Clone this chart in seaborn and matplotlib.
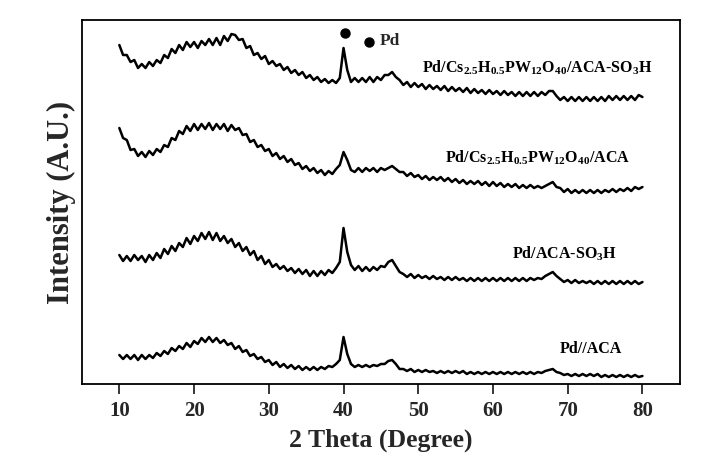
import numpy as np
import pandas as pd
import matplotlib
matplotlib.use("Agg")
import matplotlib.pyplot as plt
import seaborn as sns

# 2-theta grid (degrees), 0.5 degree step from 10 to 80
two_theta = np.arange(10.0, 80.01, 0.5)

# Intensities (arbitrary units, stacked offsets included)
pd_cs_aca_so3h = [
    339, 329, 329, 322, 324, 316, 320, 316, 322, 318,
    324, 321, 329, 326, 335, 331, 339, 334, 342, 337,
    342, 336, 343, 339, 345, 339, 346, 339, 348, 343,
    350, 349, 344, 345, 336, 338, 329, 331, 325, 328,
    320, 323, 318, 320, 314, 317, 311, 314, 309, 312,
    306, 309, 304, 307, 302, 305, 301, 304, 301, 306,
    336, 314, 302, 306, 302, 306, 302, 307, 302, 307,
    304, 309, 309, 312, 307, 304, 299, 302, 297, 301,
    297, 300, 295, 299, 295, 298, 294, 298, 293, 297,
    293, 296, 292, 296, 291, 295, 291, 294, 290, 294,
    290, 293, 289, 293, 289, 292, 288, 292, 288, 292,
    288, 292, 288, 292, 289, 293, 293, 288, 284, 287,
    283, 287, 283, 287, 283, 287, 283, 287, 283, 287,
    283, 288, 284, 288, 284, 288, 284, 288, 284, 289,
    287,
]
pd_cs_aca = [
    256, 246, 244, 234, 235, 228, 232, 227, 233, 229,
    235, 232, 239, 237, 246, 244, 253, 250, 258, 253,
    260, 254, 260, 255, 261, 254, 260, 255, 260, 253,
    259, 254, 256, 249, 250, 242, 244, 237, 239, 233,
    235, 228, 231, 225, 228, 222, 225, 219, 221, 215,
    218, 213, 216, 211, 214, 209, 213, 210, 215, 219,
    232, 224, 214, 212, 216, 212, 216, 213, 216, 212,
    216, 214, 216, 218, 215, 212, 212, 208, 211, 207,
    209, 205, 208, 204, 207, 204, 207, 203, 206, 202,
    205, 201, 204, 200, 203, 200, 203, 199, 202, 198,
    202, 198, 201, 197, 200, 197, 200, 196, 199, 196,
    199, 196, 198, 196, 198, 200, 202, 197, 196, 192,
    195, 191, 194, 191, 194, 191, 194, 191, 194, 191,
    194, 192, 195, 192, 195, 193, 196, 193, 197, 195,
    197,
]
pd_aca_so3h = [
    129, 123, 128, 123, 129, 124, 128, 122, 129, 124,
    131, 126, 135, 130, 138, 133, 141, 137, 146, 140,
    148, 143, 151, 145, 152, 144, 151, 143, 148, 141,
    145, 137, 141, 133, 137, 129, 133, 124, 128, 120,
    124, 117, 120, 115, 118, 113, 116, 111, 115, 110,
    114, 108, 113, 108, 113, 109, 114, 111, 116, 122,
    156, 132, 119, 114, 118, 113, 117, 113, 117, 114,
    118, 117, 122, 124, 118, 112, 110, 107, 110, 106,
    109, 106, 108, 105, 108, 105, 107, 104, 107, 104,
    107, 104, 106, 103, 106, 103, 106, 103, 106, 103,
    106, 103, 106, 103, 106, 103, 106, 103, 106, 103,
    106, 104, 106, 105, 108, 110, 112, 108, 105, 102,
    104, 101, 104, 101, 103, 101, 103, 100, 103, 100,
    103, 100, 103, 100, 103, 100, 103, 100, 103, 100,
    102,
]
pd_aca = [
    29, 25, 29, 25, 29, 24, 29, 25, 29, 26,
    31, 28, 33, 30, 36, 33, 38, 35, 41, 37,
    43, 40, 46, 42, 47, 42, 46, 41, 44, 39,
    41, 35, 38, 32, 34, 28, 30, 25, 27, 22,
    24, 19, 22, 17, 20, 16, 19, 15, 18, 14,
    17, 14, 17, 14, 17, 15, 18, 17, 20, 24,
    47, 30, 20, 17, 19, 17, 19, 17, 19, 18,
    20, 20, 23, 24, 20, 15, 15, 13, 15, 12,
    14, 12, 14, 12, 13, 11, 13, 11, 13, 11,
    13, 11, 13, 10, 12, 10, 12, 10, 12, 10,
    12, 10, 12, 10, 12, 10, 12, 10, 12, 10,
    12, 10, 12, 11, 13, 14, 15, 12, 11, 9,
    10, 8, 10, 8, 10, 8, 10, 8, 10, 7,
    9, 7, 9, 7, 9, 7, 9, 7, 9, 7,
    8,
]

series_names = [
    "Pd/Cs2.5H0.5PW12O40/ACA-SO3H",
    "Pd/Cs2.5H0.5PW12O40/ACA",
    "Pd/ACA-SO3H",
    "Pd//ACA",
]
series_labels = [
    r"Pd/Cs$_{2.5}$H$_{0.5}$PW$_{12}$O$_{40}$/ACA-SO$_{3}$H",
    r"Pd/Cs$_{2.5}$H$_{0.5}$PW$_{12}$O$_{40}$/ACA",
    r"Pd/ACA-SO$_{3}$H",
    "Pd//ACA",
]
label_pos = [(65.9, 316), (66.0, 226), (69.5, 130), (73.1, 35)]
x_ticks = [10, 20, 30, 40, 50, 60, 70, 80]
pd_peak = (40.2, 351)
pd_legend = (43.4, 342)

frames = []
for name, vals in zip(series_names, [pd_cs_aca_so3h, pd_cs_aca, pd_aca_so3h, pd_aca]):
    frames.append(pd.DataFrame({"two_theta": two_theta, "intensity": vals, "sample": name}))
df = pd.concat(frames, ignore_index=True)

sns.set_style("white")
plt.rcParams["font.family"] = ["Liberation Serif", "DejaVu Serif"]
plt.rcParams["font.weight"] = "bold"
plt.rcParams["mathtext.fontset"] = "custom"
plt.rcParams["mathtext.rm"] = "Liberation Serif:bold"
plt.rcParams["mathtext.bf"] = "Liberation Serif:bold"
plt.rcParams["mathtext.it"] = "Liberation Serif:bold"

fig = plt.figure(figsize=(7.03, 4.59), dpi=100)
ax = fig.add_axes([0.1166, 0.1634, 0.8504, 0.793])

sns.lineplot(data=df, x="two_theta", y="intensity", hue="sample",
             palette=["black"] * 4, legend=False, linewidth=1.8,
             estimator=None, sort=False, ax=ax)

for lab, (lx, ly) in zip(series_labels, label_pos):
    ax.text(lx, ly, lab, ha="center", va="center", fontsize=11.5,
            fontweight="bold", color="black")

ax.plot([pd_peak[0]], [pd_peak[1]], "o", color="black", markersize=6.5)
ax.plot([pd_legend[0]], [pd_legend[1]], "o", color="black", markersize=6.5)
ax.text(pd_legend[0] + 1.4, pd_legend[1] + 1, "Pd", ha="left", va="center",
        fontsize=12.5, fontweight="bold")

ax.set_xlim(5, 85)
ax.set_ylim(0, 364)
ax.set_xticks(x_ticks)
ax.set_xticklabels([str(t) for t in x_ticks], fontsize=15, fontweight="bold")
ax.set_yticks([])
ax.tick_params(axis="x", direction="out", length=7, width=1.3, bottom=True, pad=5)
for sp in ax.spines.values():
    sp.set_color("black")
    sp.set_linewidth(1.3)

ax.set_xlabel("2 Theta (Degree)", fontsize=18.5, fontweight="bold", labelpad=6)
ax.set_ylabel("Intensity (A.U.)", fontsize=22, fontweight="bold", labelpad=4)

fig.savefig("out.png", dpi=100)
